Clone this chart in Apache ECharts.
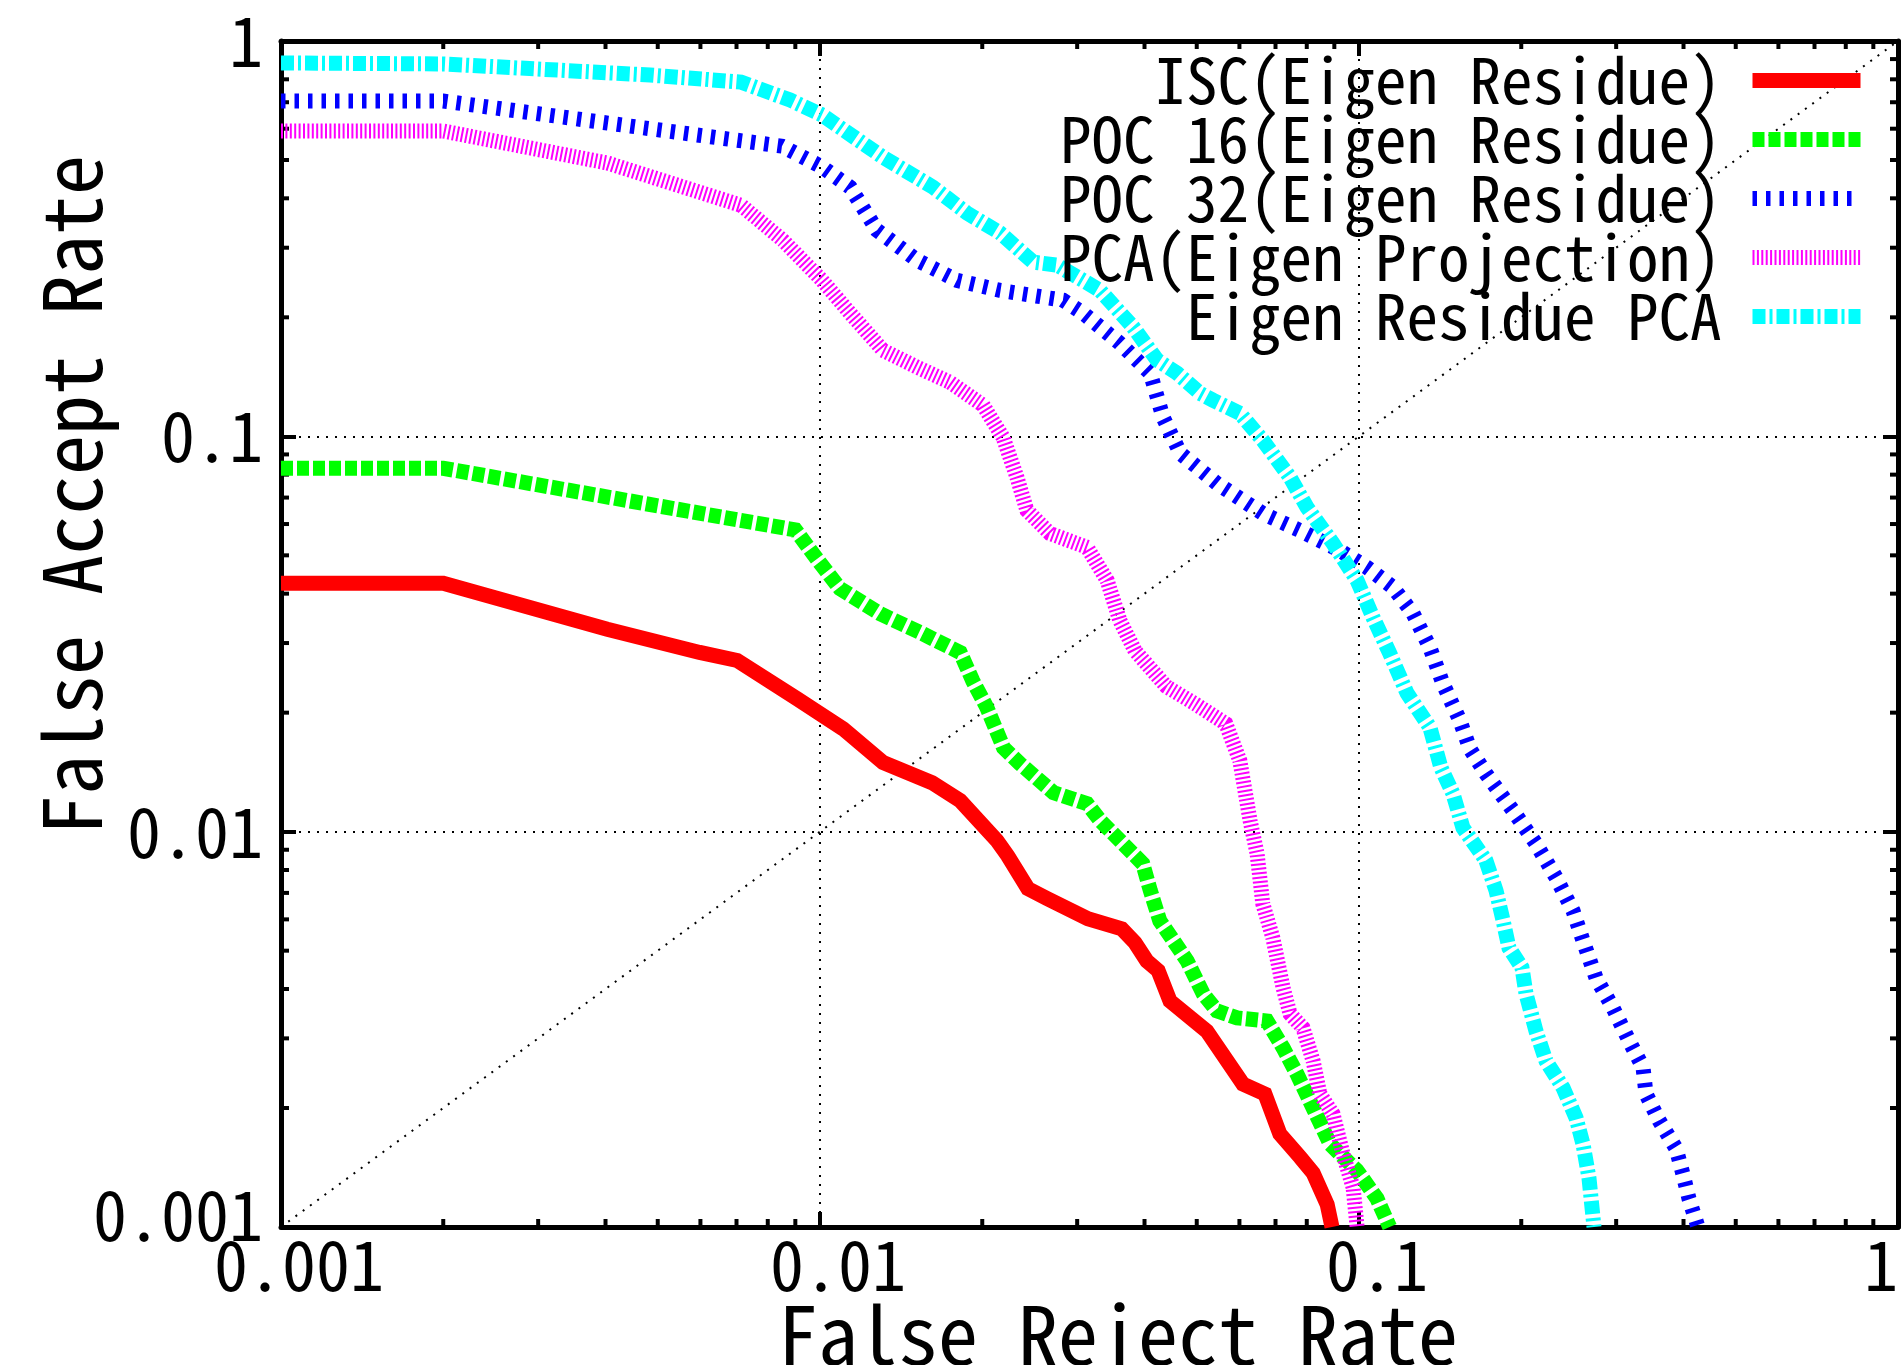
<!DOCTYPE html>
<html>
<head>
<meta charset="utf-8">
<script src="https://cdn.jsdelivr.net/npm/echarts@6.0.0/dist/echarts.min.js"></script>
<style>
  html, body { margin: 0; padding: 0; background: #ffffff; }
  #chart { width: 1904px; height: 1365px; }
</style>
</head>
<body>
<div id="chart"></div>
<script>
// ---------------- data ----------------
const seriesNames = ['ISC(Eigen Residue)', 'POC 16(Eigen Residue)', 'POC 32(Eigen Residue)', 'PCA(Eigen Projection)', 'Eigen Residue PCA'];

const iscFRR = [0.001, 0.002, 0.00403, 0.00598, 0.00702, 0.00906, 0.01104, 0.01309, 0.01614, 0.0182, 0.0213, 0.0223, 0.0243, 0.0264, 0.0314, 0.0363, 0.0384, 0.0404, 0.0424, 0.0446, 0.0522, 0.0609, 0.0669, 0.0713, 0.0778, 0.0822, 0.0873, 0.0891];
const iscFAR = [0.0425, 0.0425, 0.0325, 0.0284, 0.0271, 0.0217, 0.0182, 0.01496, 0.0133, 0.01198, 0.00949, 0.00869, 0.00718, 0.00677, 0.00602, 0.00568, 0.00524, 0.00471, 0.00445, 0.00373, 0.00313, 0.0023, 0.00217, 0.00172, 0.0015, 0.00137, 0.00114, 0.001];

const poc16FRR = [0.001, 0.002, 0.009, 0.00992, 0.01089, 0.01292, 0.01534, 0.0182, 0.0192, 0.0204, 0.0219, 0.0235, 0.0271, 0.0313, 0.0331, 0.0397, 0.041, 0.0427, 0.044, 0.048, 0.0514, 0.0545, 0.0594, 0.0675, 0.0723, 0.0767, 0.0822, 0.0884, 0.0991, 0.108, 0.114];
const poc16FAR = [0.083, 0.083, 0.058, 0.0485, 0.0412, 0.0356, 0.0319, 0.0284, 0.0241, 0.0206, 0.0163, 0.01486, 0.01256, 0.01177, 0.01067, 0.0083, 0.0071, 0.00595, 0.00561, 0.00471, 0.00389, 0.00352, 0.00338, 0.00332, 0.00284, 0.00244, 0.002, 0.00162, 0.00139, 0.00118, 0.001];

const poc32FRR = [0.001, 0.002, 0.00404, 0.00612, 0.0085, 0.01009, 0.01137, 0.01276, 0.01514, 0.01796, 0.02158, 0.02824, 0.03076, 0.036, 0.041, 0.0433, 0.0466, 0.0545, 0.0663, 0.0777, 0.0922, 0.1035, 0.1156, 0.126, 0.1354, 0.1431, 0.1539, 0.1606, 0.172, 0.1931, 0.213, 0.2321, 0.2495, 0.2604, 0.2752, 0.296, 0.3169, 0.3365, 0.3408, 0.3603, 0.3874, 0.3991, 0.4094, 0.4255];
const poc32FAR = [0.705, 0.705, 0.62, 0.575, 0.542, 0.48, 0.427, 0.332, 0.279, 0.248, 0.234, 0.221, 0.205, 0.172, 0.1444, 0.1117, 0.0906, 0.076, 0.0638, 0.0578, 0.0514, 0.0466, 0.0415, 0.0356, 0.0292, 0.0237, 0.0191, 0.0162, 0.01402, 0.0113, 0.00932, 0.00765, 0.00631, 0.0053, 0.00427, 0.00358, 0.00296, 0.00253, 0.00217, 0.00186, 0.00158, 0.00136, 0.00118, 0.001];

const pcaFRR = [0.001, 0.002, 0.00404, 0.00714, 0.00854, 0.01009, 0.01137, 0.01309, 0.01514, 0.01743, 0.02007, 0.02186, 0.0232, 0.0242, 0.0267, 0.0313, 0.0341, 0.036, 0.0384, 0.0439, 0.0498, 0.0566, 0.0601, 0.0628, 0.0647, 0.0663, 0.0692, 0.0723, 0.0745, 0.0787, 0.0822, 0.0846, 0.0895, 0.0934, 0.0975, 0.0992];
const pcaFAR = [0.592, 0.592, 0.491, 0.384, 0.313, 0.248, 0.205, 0.165, 0.1496, 0.137, 0.1198, 0.0994, 0.0787, 0.065, 0.0568, 0.0524, 0.0432, 0.0342, 0.0287, 0.0233, 0.021, 0.01876, 0.01513, 0.01066, 0.0088, 0.00657, 0.00539, 0.00403, 0.00346, 0.00319, 0.00263, 0.00217, 0.00193, 0.00153, 0.00126, 0.001];

const erpcaFRR = [0.001, 0.002, 0.00484, 0.00714, 0.0088, 0.01009, 0.01309, 0.0162, 0.01874, 0.02158, 0.02484, 0.02753, 0.03307, 0.0381, 0.0422, 0.046, 0.0507, 0.0536, 0.0601, 0.0663, 0.0745, 0.0801, 0.0895, 0.0992, 0.1062, 0.1141, 0.1228, 0.1354, 0.1419, 0.1494, 0.1559, 0.172, 0.1796, 0.1851, 0.1898, 0.2006, 0.2041, 0.213, 0.2223, 0.2391, 0.2527, 0.2604, 0.2671, 0.2729];
const erpcaFAR = [0.88, 0.875, 0.82, 0.787, 0.709, 0.65, 0.508, 0.427, 0.367, 0.327, 0.276, 0.271, 0.234, 0.189, 0.156, 0.1444, 0.1285, 0.1234, 0.1144, 0.0977, 0.0787, 0.0661, 0.0536, 0.0432, 0.0348, 0.0282, 0.0224, 0.01834, 0.01452, 0.01248, 0.01023, 0.00845, 0.00709, 0.00595, 0.00508, 0.00453, 0.00389, 0.00313, 0.00263, 0.00225, 0.00189, 0.00162, 0.00133, 0.001];

// equal-error diagonal (y = x)
const diagonalX = [0.001, 1];
const diagonalY = [0.001, 1];

// axis tick labels and minor tick positions
const xTickLabels = ['0.001', '0.01', '0.1', '1'];
const yTickLabels = ['0.001', '0.01', '0.1', '1'];
const minorTicks = [0.002, 0.003, 0.004, 0.005, 0.006, 0.007, 0.008, 0.009,
                    0.02, 0.03, 0.04, 0.05, 0.06, 0.07, 0.08, 0.09,
                    0.2, 0.3, 0.4, 0.5, 0.6, 0.7, 0.8, 0.9];
const xAxisTitle = 'False Reject Rate';
const yAxisTitle = 'False Accept Rate';

// ---------------- chart ----------------
const FONT = '"Noto Sans Mono CJK JP", "Noto Sans CJK JP", monospace';
const zip = (a, b) => a.map((v, i) => [v, b[i]]);
const decade = (v) => Math.round(Math.log10(v)) + 3;

const chart = echarts.init(document.getElementById('chart'), null, { renderer: 'canvas' });

const axisCommon = {
  type: 'log', logBase: 10, min: 0.001, max: 1,
  axisLine: { show: true, onZero: false, lineStyle: { color: '#000', width: 5 } },
  axisTick: { show: true, inside: true, length: 15, lineStyle: { color: '#000', width: 4 } },
  minorTick: { show: false },
  minorSplitLine: { show: false }
};

function curve(name, xs, ys, color, dash) {
  return {
    name, type: 'line', data: zip(xs, ys),
    xAxisIndex: 0, yAxisIndex: 0,
    symbol: 'none', smooth: false, clip: true,
    lineStyle: { color, width: 15, type: dash, cap: 'butt', join: 'miter' },
    itemStyle: { color },
    emphasis: { disabled: true }
  };
}

const option = {
  animation: false,
  backgroundColor: '#ffffff',
  textStyle: { fontFamily: FONT },
  grid: { left: 281, right: 6, top: 41, bottom: 138, containLabel: false, outerBoundsMode: 'none' },
  xAxis: [
    Object.assign({}, axisCommon, {
      position: 'bottom',
      axisLabel: {
        show: true, color: '#000', fontSize: 68, fontFamily: FONT, margin: 4,
        padding: [0, 0, 0, 36], alignMaxLabel: 'right',
        formatter: (v) => xTickLabels[decade(v)]
      },
      splitLine: { show: true, lineStyle: { color: '#000', width: 2, type: [2, 7] } }
    }),
    Object.assign({}, axisCommon, {
      position: 'top',
      axisLabel: { show: false },
      splitLine: { show: false }
    })
  ],
  yAxis: [
    Object.assign({}, axisCommon, {
      position: 'left',
      axisLabel: {
        show: true, color: '#000', fontSize: 68, fontFamily: FONT, margin: 18,
        formatter: (v) => decade(v) === 0 ? '{lo|' + yTickLabels[0] + '}' : yTickLabels[decade(v)],
        rich: { lo: { fontSize: 68, fontFamily: FONT, color: '#000', padding: [0, 0, 24, 0] } }
      },
      splitLine: { show: true, lineStyle: { color: '#000', width: 2, type: [2, 7] } }
    }),
    Object.assign({}, axisCommon, {
      position: 'right',
      axisLabel: { show: false },
      splitLine: { show: false }
    })
  ],
  legend: {
    data: seriesNames,
    orient: 'vertical', align: 'right',
    right: 36, top: 49, padding: 0,
    itemWidth: 108, itemHeight: 14, itemGap: -4,
    selectedMode: false,
    textStyle: { color: '#000', fontSize: 63, fontFamily: FONT, padding: [0, 26, 0, 0] },
    lineStyle: { width: 15 },
    itemStyle: { opacity: 0 }
  },
  graphic: [
    { type: 'text', x: 1118, y: 1335, silent: true,
      style: { text: xAxisTitle, font: '80px ' + FONT, fill: '#000', textAlign: 'center', textVerticalAlign: 'middle' } },
    { type: 'text', x: 72, y: 495, rotation: Math.PI / 2, silent: true,
      style: { text: yAxisTitle, font: '80px ' + FONT, fill: '#000', textAlign: 'center', textVerticalAlign: 'middle' } }
  ],
  series: [
    {
      name: 'diagonal', type: 'line', data: zip(diagonalX, diagonalY),
      symbol: 'none', silent: true,
      lineStyle: { color: '#000', width: 2, type: [2, 7] }
    },
    {
      name: 'minorX', type: 'custom', silent: true, z: 3,
      data: minorTicks.map(v => [v, 1]),
      renderItem: function (params, api) {
        const v = api.value(0);
        const pb = api.coord([v, 0.001]);
        const pt = api.coord([v, 1]);
        return { type: 'group', children: [
          { type: 'line', shape: { x1: pb[0], y1: pb[1], x2: pb[0], y2: pb[1] - 8 }, style: { stroke: '#000', lineWidth: 4 } },
          { type: 'line', shape: { x1: pt[0], y1: pt[1], x2: pt[0], y2: pt[1] + 8 }, style: { stroke: '#000', lineWidth: 4 } }
        ] };
      }
    },
    {
      name: 'minorY', type: 'custom', silent: true, z: 3,
      data: minorTicks.map(v => [1, v]),
      renderItem: function (params, api) {
        const v = api.value(1);
        const pl = api.coord([0.001, v]);
        const pr = api.coord([1, v]);
        return { type: 'group', children: [
          { type: 'line', shape: { x1: pl[0], y1: pl[1], x2: pl[0] + 8, y2: pl[1] }, style: { stroke: '#000', lineWidth: 4 } },
          { type: 'line', shape: { x1: pr[0], y1: pr[1], x2: pr[0] - 8, y2: pr[1] }, style: { stroke: '#000', lineWidth: 4 } }
        ] };
      }
    },
    curve(seriesNames[0], iscFRR, iscFAR, '#ff0000', 'solid'),
    curve(seriesNames[1], poc16FRR, poc16FAR, '#00ff00', [12, 4]),
    curve(seriesNames[2], poc32FRR, poc32FAR, '#0000ff', [4.5, 9]),
    curve(seriesNames[3], pcaFRR, pcaFAR, '#ff00ff', [2, 2.4]),
    curve(seriesNames[4], erpcaFRR, erpcaFAR, '#00ffff', [13, 4, 3, 4])
  ]
};

chart.setOption(option);
</script>
</body>
</html>
